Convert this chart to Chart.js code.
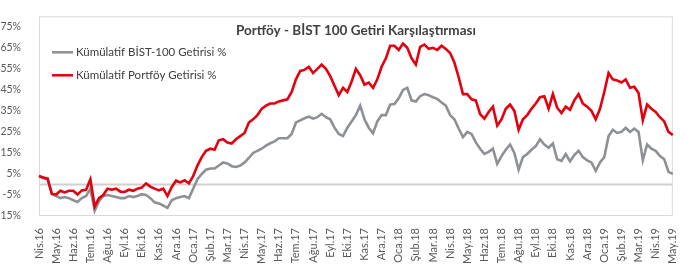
<!DOCTYPE html>
<html><head><meta charset="utf-8">
<script src="https://cdn.jsdelivr.net/npm/chart.js@4.4.0/dist/chart.umd.min.js"></script>
<style>html,body{margin:0;padding:0;background:#fff;}canvas{display:block}</style>
</head><body>
<canvas id="c" width="690" height="264"></canvas>
<script>
const chartTitle = "Portföy - BİST 100 Getiri Karşılaştırması";
const seriesNames = ["Kümülatif BİST-100 Getirisi %", "Kümülatif Portföy Getirisi %"];
const months = ["Nis.16","May.16","Haz.16","Tem.16","Ağu.16","Eyl.16","Eki.16","Kas.16","Ara.16","Oca.17","Şub.17","Mar.17","Nis.17","May.17","Haz.17","Tem.17","Ağu.17","Eyl.17","Eki.17","Kas.17","Ara.17","Oca.18","Şub.18","Mar.18","Nis.18","May.18","Haz.18","Tem.18","Ağu.18","Eyl.18","Eki.18","Kas.18","Ara.18","Oca.19","Şub.19","Mar.19","Nis.19","May.19"];
const yTicks = [-15,-5,5,15,25,35,45,55,65,75];
const yMin = -15, yMax = 80;
const bist100 = [
 4,3,3,-4.5,-5.5,-6.5,-6,-6.5,-7.5,-8.3,-6.5,-5.5,-2,-12.5,-8,-5.5,-5,-5.5,-6,-6.5,
 -6.5,-5.5,-6,-5.5,-4.6,-5,-6.5,-8.5,-9,-10,-11.2,-7.5,-6.5,-6,-5.5,-6.5,-2,2.5,5,7,
 7.6,7.6,9,10.5,10,8.7,8.3,9,10.5,12.6,15,16,17,18.5,19.6,20.5,22,22,22,24,
 29.5,30.5,31.5,32.3,31.3,32,33.6,32,31,27,24,23,27,30,33,37.5,31,27,24.3,30,
 33,33,38,38.3,41,45,46,40,39.5,42,43,42.5,41.5,40.7,39,37.5,33,31,26.6,22.5,
 25,24,20,17,14.5,15.5,17,9.8,13.5,16.5,19,15,7,13,14.5,16.5,18.2,21.5,19,17.5,
 19.5,12,11.2,14.5,11,14,16,13,11.5,10.5,6.5,10.5,13,23,26,24.5,25,27,25,26.6,
 25,11.5,19,17,16,13.5,12,6,5
];
const portfolio = [
 4,3.3,2.6,-4.5,-4.8,-3,-3.8,-3,-3,-4.8,-2.8,-2.5,2.5,-10.5,-6.5,-5,-2,-2.5,-2,-3.4,
 -3.5,-2.5,-3,-2,-1.5,0.5,-1,-2,-2.8,-2,-5.5,-1.2,1.8,1,2,0.5,4,9,13,16,
 17,16.5,21,21.5,20,19.5,21.5,23,24.5,29.5,31,33,36,37.5,38.5,38.5,39.5,40,40.5,44,
 50,54,54.5,56,53,55,57,55,51.5,47,42.5,46,44,49,55,52,47.5,48.5,46,50,
 56,60,66,66,64,67,65,60,57,65.5,66.5,64.5,65,64,66,64.5,62.5,58,51,43,
 43,40.5,40,33.5,31.3,34.5,37,28,31,36,38,35,26,31,33,36,38.5,41.5,42,36,
 43,36.5,34,37,35.5,40,43,38.5,37,35,31,36,44,53,50,49.5,48.5,50,46,46.5,
 43.5,30.5,38,36,34.5,32,30,25,23.5
];
const labels = [];
months.forEach((m, i) => { labels.push(m); if (i < months.length - 1) labels.push('', '', ''); });

const FONT = 'Lato, "Open Sans", sans-serif';
const colors = ["#8d9095", "#e3000f"];

const decor = {
  id: 'decor',
  beforeDatasetsDraw(chart) {
    const { ctx, chartArea: a, scales: { y } } = chart;
    ctx.save();
    const y0 = y.getPixelForValue(0);
    ctx.strokeStyle = '#d0d0d0'; ctx.lineWidth = 2;
    ctx.beginPath(); ctx.moveTo(a.left, y0); ctx.lineTo(a.right, y0); ctx.stroke();
    ctx.strokeStyle = '#d9d9d9'; ctx.lineWidth = 1;
    ctx.strokeRect(a.left + 0.5, a.top + 0.5, a.right - a.left - 1, a.bottom - a.top - 1);
    ctx.restore();
  },
  afterDatasetsDraw(chart) {
    const { ctx, chartArea: a } = chart;
    ctx.save();
    ctx.fillStyle = '#404040';
    ctx.font = 'bold 13.5px ' + FONT;
    ctx.textAlign = 'center'; ctx.textBaseline = 'middle';
    ctx.fillText(chartTitle, (a.left + a.right) / 2, a.top + 14);
    ctx.font = '11.5px ' + FONT;
    ctx.textAlign = 'left';
    seriesNames.forEach((name, i) => {
      const yy = a.top + 36 + i * 23;
      ctx.strokeStyle = colors[i]; ctx.lineWidth = 2.5;
      ctx.beginPath(); ctx.moveTo(a.left + 13, yy); ctx.lineTo(a.left + 34, yy); ctx.stroke();
      ctx.fillStyle = '#404040';
      ctx.fillText(name, a.left + 37, yy);
    });
    ctx.restore();
  }
};

new Chart(document.getElementById('c'), {
  type: 'line',
  data: {
    labels: labels,
    datasets: [
      { label: seriesNames[0], data: bist100, borderColor: colors[0], borderWidth: 2.6, pointRadius: 0, tension: 0, order: 1 },
      { label: seriesNames[1], data: portfolio, borderColor: colors[1], borderWidth: 2.6, pointRadius: 0, tension: 0, order: 0 }
    ]
  },
  options: {
    responsive: false,
    animation: false,
    devicePixelRatio: 1,
    layout: { padding: { top: 12, right: 13, left: 0, bottom: 0 } },
    plugins: { legend: { display: false }, title: { display: false }, tooltip: { enabled: false } },
    scales: {
      x: {
        grid: { display: false }, border: { display: false },
        ticks: { autoSkip: false, minRotation: 90, maxRotation: 90, padding: 4, color: '#595959', font: { family: FONT, size: 11 } },
        afterFit(s) { s.height = 48; }
      },
      y: {
        min: yMin, max: yMax,
        grid: { display: false }, border: { display: false },
        afterBuildTicks(s) { s.ticks = yTicks.map(v => ({ value: v })); },
        ticks: { padding: 10, color: '#595959', font: { family: FONT, size: 10.5 }, callback: v => v + '%' },
        afterFit(s) { s.width = 39; }
      }
    }
  },
  plugins: [decor]
});
</script>
</body></html>
